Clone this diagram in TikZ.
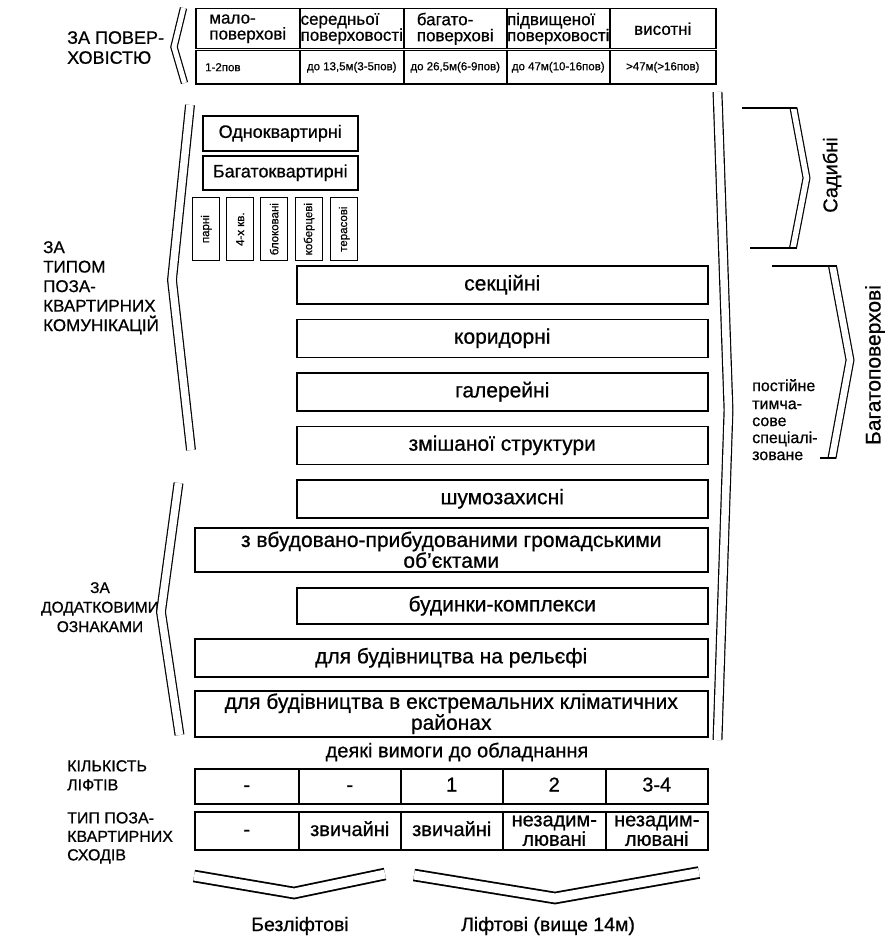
\documentclass[tikz,border=0pt]{standalone}
\usepackage{fontspec}
\setmainfont{Liberation Sans}[FakeBold=0.7]
\usetikzlibrary{positioning}

\newcommand{\fsz}[2]{\fontsize{#1}{#2}\selectfont}

\begin{document}
\begin{tikzpicture}[
    x=1pt, y=-1pt,
    box/.style={
        draw,
        line width=1.5pt,
        anchor=north west,
        inner sep=1pt,
        align=center,
        font=\fsz{21}{19},
    },
    cell/.style={
        draw,
        line width=1.5pt,
        anchor=north west,
        inner sep=0pt,
        align=center,
        font=\fsz{20}{17},
    },
    onecell/.style={
        cell,
        text height=14.5pt,
        text depth=4pt,
    },
    vbox/.style={
        draw,
        line width=1.3pt,
        anchor=north west,
        minimum width=27pt,
        minimum height=63pt,
        inner sep=0pt,
    },
    head/.style={
        font=\fsz{17}{16},
        align=left,
        inner sep=0pt,
    },
    tiny/.style={
        font=\fsz{11.5}{12},
        inner sep=0pt,
    },
    group/.style={
        font=\fsz{17}{19.5},
        align=left,
        anchor=north west,
        inner sep=0pt,
    },
    chevron/.style={
        line width=1.2pt,
        double,
        double distance=7.5pt,
        line join=miter,
    },
    bracket/.style={
        line width=1.2pt,
    },
]
    \useasboundingbox (0,0) rectangle (893,942);

    % Poverkhovist
    \node[group, font=\fsz{18}{20}] (zapov) at (67,31) {ЗА ПОВЕР-\\ХОВІСТЮ};
    \draw[chevron, double distance=5pt] (183.5,8) -- (174,47) -- (184.5,83);
    \foreach \i/\xl/\w in {1/195/104, 2/299/104, 3/403/103, 4/506/103, 5/609/106} {
        \node[cell, minimum width=\w pt, minimum height=40pt] (pov\i) at (\xl,8) {};
        \node[cell, minimum width=\w pt, minimum height=33pt] (vys\i) at (\xl,50) {};
    }
    \node[head] at (pov1.center) {мало-\\поверхові};
    \node[head] at (pov2.center) {середньої\\поверховості};
    \node[head] at (pov3.center) {багато-\\поверхові};
    \node[head] at (pov4.center) {підвищеної\\поверховості};
    \node[head] at (pov5.center) {висотні};
    \node[tiny, right=10pt of vys1.west] {1-2пов};
    \node[tiny] at (vys2.center) {до 13,5м(3-5пов)};
    \node[tiny] at (vys3.center) {до 26,5м(6-9пов)};
    \node[tiny] at (vys4.center) {до 47м(10-16пов)};
    \node[tiny] at (vys5.center) {>47м(>16пов)};

    % Typ pozakvartyrnykh komunikatsii
    \node[group] (zatyp) at (43,241) {ЗА\\ТИПОМ\\ПОЗА-\\КВАРТИРНИХ\\КОМУНІКАЦІЙ};
    \draw[chevron] (190,105) -- (172,280) -- (191,450);

    \node[box, minimum width=155pt, minimum height=35pt, font=\fsz{18}{18}] (odno) at (202,115) {Одноквартирні};
    \node[box, minimum width=155pt, minimum height=34pt, font=\fsz{18}{18}] (bagato) at (202,155) {Багатоквартирні};
    \foreach \n/\xl/\t in {parni/192/парні, chotyry/226/4-х кв., blok/260/блоковані, kover/295/коберцеві, teras/330/терасові} {
        \node[vbox] (\n) at (\xl,197) {};
        \node[tiny, font=\fsz{11.5}{11.5}, rotate=90] at (\n.center) {\t};
    }

    \node[box, minimum width=411pt, minimum height=38pt] (sekc) at (296,265) {секційні};
    \node[box, minimum width=411pt, minimum height=38pt, below=14pt of sekc] (korid) {коридорні};
    \node[box, minimum width=411pt, minimum height=38pt, below=14pt of korid] (galer) {галерейні};
    \node[box, minimum width=411pt, minimum height=38pt, below=14pt of galer] (zmish) {змішаної структури};
    \node[box, minimum width=411pt, minimum height=38pt, below=14pt of zmish] (shum) {шумозахисні};

    % Sadybni / Bagatopoverkhovi
    \draw[chevron] (717.5,92) -- (728.5,410) -- (717.5,740);
    \draw[chevron, double distance=5.5pt] (793.5,108) -- (806.5,178) -- (793,248);
    \draw[bracket] (742,108) -- (797,108);
    \draw[bracket] (750,248) -- (797,248);
    \node[font=\fsz{20}{20}, rotate=90] (sadyb) at (832,175) {Садибні};
    \draw[chevron, double distance=6.5pt] (832.5,266) -- (850,360) -- (832,458);
    \draw[bracket] (772,266) -- (837,266);
    \draw[bracket] (820,458) -- (836,458);
    \node[font=\fsz{21}{21}, rotate=90] (bagpov) at (875,365) {Багатоповерхові};
    \node[group, font=\fsz{16}{17}] (pryzn) at (752,379) {постійне\\[1pt]тимча-\\сове\\спеціалі-\\зоване};

    % Dodatkovi oznaky
    \node[group, font=\fsz{15.5}{19.5}, align=center, anchor=north] (zadod) at (100,582) {ЗА\\ДОДАТКОВИМИ\\ОЗНАКАМИ};
    \draw[chevron] (178.5,483) -- (161,612) -- (179.5,735);

    \node[box, minimum width=513pt, minimum height=44pt] (vbud) at (194,527) {з вбудовано-прибудованими громадськими\\об'єктами};
    \node[box, minimum width=411pt, minimum height=36pt] (kompl) at (296,587) {будинки-комплекси};
    \node[box, minimum width=513pt, minimum height=38pt] (relief) at (194,638) {для будівництва на рельєфі};
    \node[box, minimum width=513pt, minimum height=46pt] (klimat) at (194,690) {для будівництва в екстремальних кліматичних\\районах};

    % Obladnannia
    \node[font=\fsz{20}{20}] (vymogy) at (457,752) {деякі вимоги до обладнання};
    \node[group, font=\fsz{16}{19}] (kilk) at (67,760) {КІЛЬКІСТЬ\\ЛІФТІВ};
    \node[group, font=\fsz{16}{18.5}] (typsk) at (67,812) {ТИП ПОЗА-\\КВАРТИРНИХ\\СХОДІВ};

    \node[onecell, minimum width=104pt, minimum height=35pt] (lift1) at (194,768) {-};
    \node[onecell, minimum width=102pt, minimum height=35pt] (lift2) at (298,768) {-};
    \node[onecell, minimum width=102pt, minimum height=35pt] (lift3) at (400,768) {1};
    \node[onecell, minimum width=103pt, minimum height=35pt] (lift4) at (502,768) {2};
    \node[onecell, minimum width=102pt, minimum height=35pt] (lift5) at (605,768) {3-4};
    \node[onecell, minimum width=104pt, minimum height=38pt] (skh1) at (194,811) {-};
    \node[onecell, minimum width=102pt, minimum height=38pt] (skh2) at (298,811) {звичайні};
    \node[onecell, minimum width=102pt, minimum height=38pt] (skh3) at (400,811) {звичайні};
    \node[cell, minimum width=103pt, minimum height=38pt] (skh4) at (502,811) {незадим-\\лювані};
    \node[cell, minimum width=102pt, minimum height=38pt] (skh5) at (605,811) {незадим-\\лювані};

    % Liftovi / bezliftovi
    \draw[chevron, line width=1.8pt, double distance=9pt] (194,876) -- (294,893) -- (385,874);
    \draw[chevron, line width=1.8pt, double distance=9pt] (414,875) -- (555,898) -- (699,872.5);
    \node[font=\fsz{19.5}{20}] (bezl) at (300,926) {Безліфтові};
    \node[font=\fsz{19.5}{20}] (liftov) at (548,926) {Ліфтові (вище 14м)};
\end{tikzpicture}
\end{document}
